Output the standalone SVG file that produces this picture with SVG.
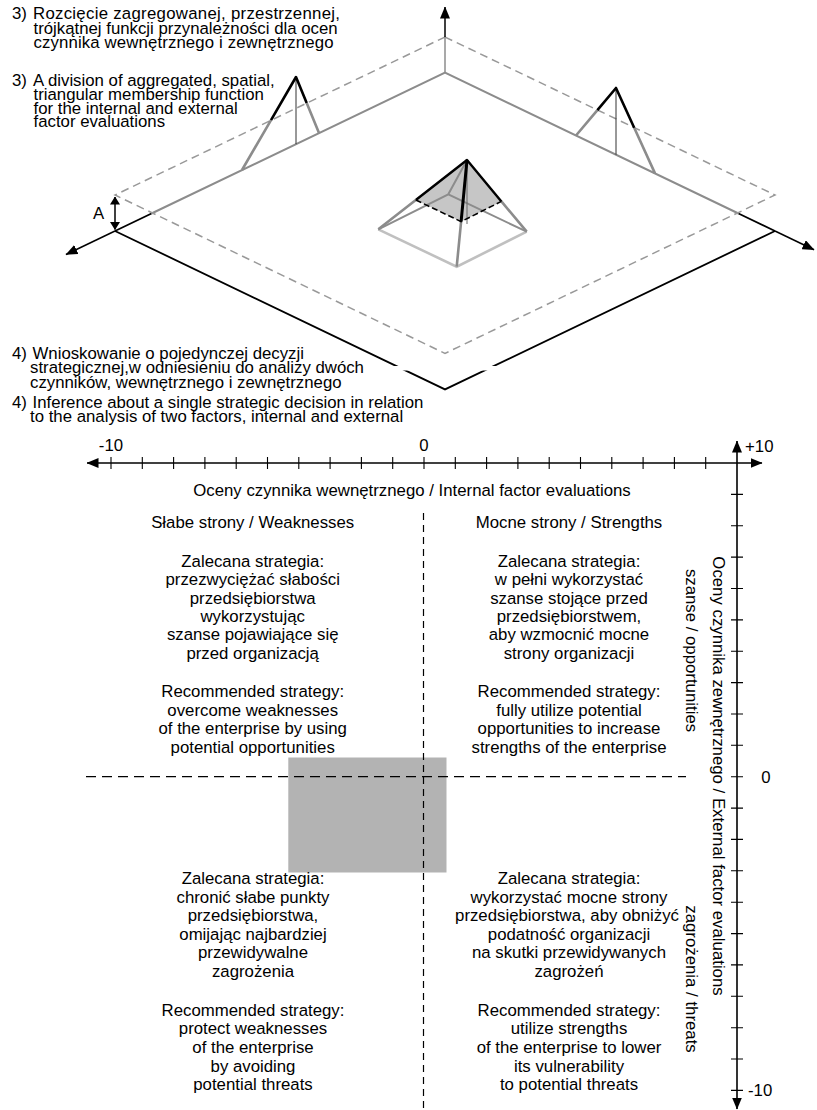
<svg xmlns="http://www.w3.org/2000/svg" width="817" height="1110" viewBox="0 0 817 1110">
<defs>
<marker id="ah" viewBox="0 0 12 10" refX="11.5" refY="5" markerWidth="12" markerHeight="10" markerUnits="userSpaceOnUse" orient="auto-start-reverse"><path d="M0,0 L12,5 L0,10 Z" fill="#000"/></marker>
<marker id="ahs" viewBox="0 0 8 10" refX="7.5" refY="5" markerWidth="8" markerHeight="10" markerUnits="userSpaceOnUse" orient="auto-start-reverse"><path d="M0,0 L8,5 L0,10 Z" fill="#000"/></marker>
<style>
.t{font-family:"Liberation Sans",Arial,Helvetica,sans-serif;font-size:16.8px;fill:#000}
.m{text-anchor:middle}
.k{stroke:#000;fill:none}
.g{stroke:#8c8c8c;fill:none}
.lg{stroke:#c0c0c0;fill:none}
.pl{stroke:#999;stroke-width:1.5;stroke-dasharray:8 5;fill:none}
.qd{stroke:#000;stroke-width:1.2;fill:none}
</style>
</defs>
<rect width="817" height="1110" fill="#fff"/>

<!-- ===== 3D membership diagram ===== -->
<g id="plane-solid">
  <path class="g" stroke-width="2" d="M151.5,213.5 L445,72.6 L738.5,213.5"/>
  <path class="k" stroke-width="1.8" d="M115,231 L151.5,213.5 M738.5,213.5 L775,231"/>
  <path class="k" stroke-width="1.8" d="M115,231 L445,389.4 L775,231"/>
  <rect x="392" y="366" width="106" height="4.5" fill="#fff"/>
</g>
<g id="plane-dashed">
  <path class="pl" d="M445,37 L775,195 L445,353.4 L115,195 Z"/>
</g>
<g id="connectors">
  <line class="g" stroke-width="1.5" x1="445" y1="72.6" x2="445" y2="37"/>
  <line class="k" stroke-width="1.5" x1="445" y1="37" x2="445" y2="7" marker-end="url(#ah)"/>
  <line class="k" stroke-width="1.5" x1="115" y1="231" x2="66" y2="254.5" marker-end="url(#ah)"/>
  <line class="k" stroke-width="1.5" x1="775" y1="231" x2="814" y2="249.7" marker-end="url(#ah)"/>
  <line class="k" stroke-width="1.5" x1="115" y1="197" x2="115" y2="229.5" marker-start="url(#ahs)" marker-end="url(#ahs)"/>
</g>
<g id="label-A">
  <text class="t" x="93" y="218.5" font-size="16">A</text>
</g>
<g id="tri-left">
  <line stroke="#333" stroke-width="1" x1="296" y1="77" x2="296" y2="144.1"/>
  <path class="g" stroke-width="2.6" d="M271,120.1 L242,170 M306.7,103 L319,133"/>
  <path class="k" stroke-width="2.6" stroke-linejoin="round" d="M271,120.1 L296,77 L306.7,103"/>
</g>
<g id="tri-right">
  <line stroke="#333" stroke-width="1" x1="616" y1="88" x2="616" y2="154.7"/>
  <path class="g" stroke-width="2.6" d="M597.4,110.1 L576,135.5 M634.2,127.8 L655,173.4"/>
  <path class="k" stroke-width="2.6" stroke-linejoin="round" d="M597.4,110.1 L616,88 L634.2,127.8"/>
</g>
<g id="pyramid">
  <polygon points="467,160 415.8,200 461.1,221.6 501.4,201.4" fill="#c6c6c6"/>
  <path class="lg" stroke-width="2.6" d="M378.3,229.3 L456.7,266.7 L526.7,231.7"/>
  <path class="g" stroke-width="2" d="M378.3,229.3 L448.3,194.3 L526.7,231.7 M448.3,194.3 L467,160"/>
  <path class="g" stroke-width="2.6" d="M415.8,200 L378.3,229.3 M461.1,221.6 L456.7,266.7 M501.4,201.4 L526.7,231.7"/>
  <line stroke="#666" stroke-width="1" x1="467" y1="160" x2="467" y2="224"/>
  <path class="k" stroke-width="1.6" stroke-dasharray="6 3" d="M415.8,200 L461.1,221.6 L501.4,201.4"/>
  <path class="k" stroke-width="2.4" stroke-linejoin="round" d="M415.8,200 L467,160 L501.4,201.4"/>
  <line class="k" stroke-width="3" x1="467" y1="160" x2="461.1" y2="221.6"/>
</g>

<!-- ===== captions ===== -->
<g id="caption-3pl">
  <text class="t"><tspan x="12" y="19.3">3)</tspan><tspan x="33" y="19.3" textLength="307" lengthAdjust="spacing">Rozcięcie zagregowanej, przestrzennej,</tspan></text>
  <text class="t" x="33.5" y="33.5">trójkątnej funkcji przynależności dla ocen</text>
  <text class="t" x="33.5" y="47.7" textLength="300" lengthAdjust="spacing">czynnika wewnętrznego i zewnętrznego</text>
</g>
<g id="caption-3en">
  <text class="t"><tspan x="12" y="86">3)</tspan><tspan x="33" y="86">A division of aggregated, spatial,</tspan></text>
  <text class="t" x="33.5" y="100">triangular membership function</text>
  <text class="t" x="33.5" y="113.5">for the internal and external</text>
  <text class="t" x="33.5" y="127.3">factor evaluations</text>
</g>
<g id="caption-4pl">
  <text class="t"><tspan x="12" y="359">4)</tspan><tspan x="32.5" y="359">Wnioskowanie o pojedynczej decyzji</tspan></text>
  <text class="t" x="30" y="373.3">strategicznej,w odniesieniu do analizy dwóch</text>
  <text class="t" x="30" y="387.7">czynników, wewnętrznego i zewnętrznego</text>
</g>
<g id="caption-4en">
  <text class="t"><tspan x="12" y="408.3">4)</tspan><tspan x="32.5" y="408.3">Inference about a single strategic decision in relation</tspan></text>
  <text class="t" x="30" y="421.7">to the analysis of two factors, internal and external</text>
</g>

<!-- ===== strategy matrix ===== -->
<g id="matrix-shade">
  <rect x="288.3" y="757.5" width="158.2" height="115" fill="#b3b3b3"/>
</g>
<g id="matrix-dividers">
  <line class="qd" stroke-dasharray="10 6" x1="86" y1="776.7" x2="686" y2="776.7"/>
  <line class="qd" stroke-dasharray="7 5" x1="423.5" y1="513" x2="423.5" y2="1110"/>
</g>
<g id="axis-internal">
  <line class="k" stroke-width="1.6" x1="87" y1="463" x2="762" y2="463" marker-start="url(#ah)" marker-end="url(#ah)"/>
  <path class="k" stroke-width="1.1" d="M111,457v12M142.3,457v12M173.6,457v12M204.9,457v12M236.2,457v12M267.5,457v12M298.8,457v12M330.1,457v12M361.4,457v12M392.7,457v12M424,457v12M455.3,457v12M486.6,457v12M517.9,457v12M549.2,457v12M580.5,457v12M611.8,457v12M643.1,457v12M674.4,457v12M705.7,457v12"/>
  <text class="t m" x="111" y="451">-10</text>
  <text class="t m" x="424" y="451">0</text>
  <text class="t m" x="412" y="496">Oceny czynnika wewnętrznego / Internal factor evaluations</text>
</g>
<g id="axis-external">
  <line class="k" stroke-width="1.6" x1="737" y1="441" x2="737" y2="1109" marker-start="url(#ah)" marker-end="url(#ah)"/>
  <path class="k" stroke-width="1.1" d="M731,494.4h12M731,525.7h12M731,557.1h12M731,588.5h12M731,619.9h12M731,651.2h12M731,682.6h12M731,714h12M731,745.3h12M731,776.7h12M731,808.1h12M731,839.4h12M731,870.8h12M731,902.2h12M731,933.6h12M731,964.9h12M731,996.3h12M731,1027.7h12M731,1059h12M731,1090.4h12"/>
  <text class="t" x="745" y="452">+10</text>
  <text class="t m" x="766" y="782.5">0</text>
  <text class="t" x="748" y="1096">-10</text>
  <text class="t m" transform="translate(713,776) rotate(90)">Oceny czynnika zewnętrznego / External factor evaluations</text>
  <text class="t m" transform="translate(686,650.5) rotate(90)">szanse / opportunities</text>
  <text class="t m" transform="translate(686,979) rotate(90)">zagrożenia / threats</text>
</g>
<g id="quadrant-weaknesses">
  <text class="t m" x="252.7" y="528">Słabe strony / Weaknesses</text>
  <text class="t m" x="252.7" y="566.7">Zalecana strategia:</text>
  <text class="t m" x="252.7" y="585.1">przezwyciężać słabości</text>
  <text class="t m" x="252.7" y="603.5">przedsiębiorstwa</text>
  <text class="t m" x="252.7" y="621.9">wykorzystując</text>
  <text class="t m" x="252.7" y="640.3">szanse pojawiające się</text>
  <text class="t m" x="252.7" y="658.7">przed organizacją</text>
  <text class="t m" x="252.7" y="697.3">Recommended strategy:</text>
  <text class="t m" x="252.7" y="715.7">overcome weaknesses</text>
  <text class="t m" x="252.7" y="734.1">of the enterprise by using</text>
  <text class="t m" x="252.7" y="752.5">potential opportunities</text>
</g>
<g id="quadrant-strengths">
  <text class="t m" x="569" y="528">Mocne strony / Strengths</text>
  <text class="t m" x="569" y="566.7">Zalecana strategia:</text>
  <text class="t m" x="569" y="585.1">w pełni wykorzystać</text>
  <text class="t m" x="569" y="603.5">szanse stojące przed</text>
  <text class="t m" x="569" y="621.9">przedsiębiorstwem,</text>
  <text class="t m" x="569" y="640.3">aby wzmocnić mocne</text>
  <text class="t m" x="569" y="658.7">strony organizacji</text>
  <text class="t m" x="569" y="697.3">Recommended strategy:</text>
  <text class="t m" x="569" y="715.7">fully utilize potential</text>
  <text class="t m" x="569" y="734.1">opportunities to increase</text>
  <text class="t m" x="569" y="752.5">strengths of the enterprise</text>
</g>
<g id="quadrant-threats-weak">
  <text class="t m" x="253" y="884">Zalecana strategia:</text>
  <text class="t m" x="253" y="902.6">chronić słabe punkty</text>
  <text class="t m" x="253" y="921.2">przedsiębiorstwa,</text>
  <text class="t m" x="253" y="939.8">omijając najbardziej</text>
  <text class="t m" x="253" y="958.4">przewidywalne</text>
  <text class="t m" x="253" y="977">zagrożenia</text>
  <text class="t m" x="253" y="1015.8">Recommended strategy:</text>
  <text class="t m" x="253" y="1034.4">protect weaknesses</text>
  <text class="t m" x="253" y="1053">of the enterprise</text>
  <text class="t m" x="253" y="1071.6">by avoiding</text>
  <text class="t m" x="253" y="1090.2">potential threats</text>
</g>
<g id="quadrant-threats-strong">
  <text class="t m" x="569" y="884">Zalecana strategia:</text>
  <text class="t m" x="569" y="902.6">wykorzystać mocne strony</text>
  <text class="t m" x="567" y="921.2">przedsiębiorstwa, aby obniżyć</text>
  <text class="t m" x="569" y="939.8">podatność organizacji</text>
  <text class="t m" x="569" y="958.4">na skutki przewidywanych</text>
  <text class="t m" x="569" y="977">zagrożeń</text>
  <text class="t m" x="569" y="1015.8">Recommended strategy:</text>
  <text class="t m" x="569" y="1034.4">utilize strengths</text>
  <text class="t m" x="569" y="1053">of the enterprise to lower</text>
  <text class="t m" x="569" y="1071.6">its vulnerability</text>
  <text class="t m" x="569" y="1090.2">to potential threats</text>
</g>
</svg>
